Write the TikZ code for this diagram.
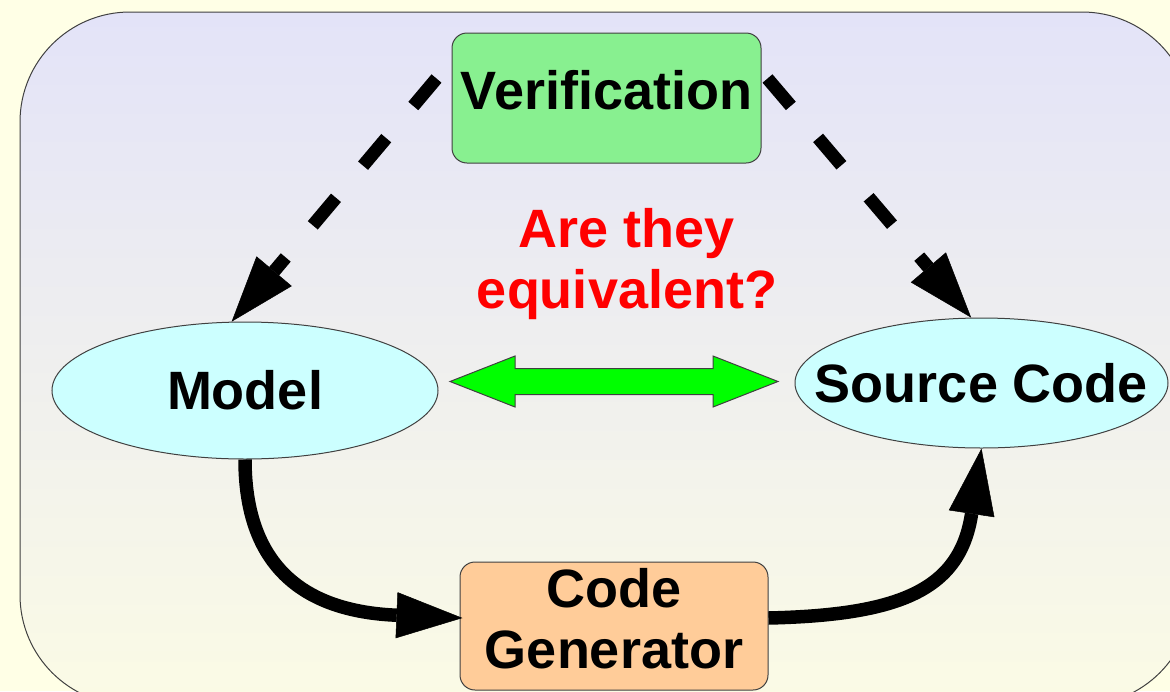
\documentclass[tikz,border=0pt]{standalone}
\usepackage{fontspec}
\setmainfont{Liberation Sans}
\usetikzlibrary{arrows.meta,shapes.geometric}
\definecolor{bgyellow}{HTML}{FFFFE6}
\definecolor{paneltop}{HTML}{E3E3F8}
\definecolor{panelbot}{HTML}{FBFBE5}
\definecolor{vergreen}{HTML}{88F090}
\definecolor{ellcyan}{HTML}{CCFFFF}
\definecolor{peach}{HTML}{FFCC99}
\definecolor{brightgreen}{HTML}{00FF00}
\definecolor{edge}{HTML}{404040}
\newcommand\dstrut{\rule[-16pt]{0pt}{16pt}}
\begin{document}
\begin{tikzpicture}[x=1pt,y=-1pt,
  txt/.style={font=\bfseries\fontsize{54}{61}\selectfont},
  boxnode/.style={draw=edge,line width=1pt,rounded corners=15pt,inner sep=0pt,txt,align=center},
  ellnode/.style={ellipse,draw=edge,line width=1pt,fill=ellcyan,inner sep=0pt,txt},
  dasharrow/.style={line width=13pt,dash pattern=on 36pt off 42pt,-{Triangle[length=66pt,width=46pt,line width=0.5pt]}},
  curvearrow/.style={line width=13.5pt,-{Triangle[length=66pt,width=46pt,line width=0.5pt]}}]
\useasboundingbox (0,0) rectangle (1170,691);
\fill[bgyellow] (0,0) rectangle (1170,691);
\begin{scope}
\clip (0,0) rectangle (1170,691);
\draw[top color=paneltop,bottom color=panelbot,draw=edge,line width=1pt,rounded corners=110pt] (20,12) rectangle (1192,705);
\end{scope}
% nodes
\node[boxnode,fill=vergreen,minimum width=309pt,minimum height=130pt] (ver) at (606.5,98) {Verification\dstrut};
\node[ellnode,minimum width=386pt,minimum height=137pt] (model) at (245,390.5) {\makebox[0pt]{Model}};
\node[ellnode,minimum width=373pt,minimum height=130pt] (src) at (981.5,383) {\makebox[0pt]{Source Code}};
\node[boxnode,fill=peach,minimum width=308pt,minimum height=128pt] (cg) at (614,626) {Code\\Generator\dstrut};
\node[txt,text=red,align=center,anchor=north,inner sep=0pt] (question) at (627,208) {Are they\\equivalent?};
% green double arrow
\draw[draw=edge,line width=1pt,fill=brightgreen] (450,381.5) -- (515,356) -- (515,368.5) -- (713,368.5) -- (713,356) -- (778,381.5) -- (713,407) -- (713,394.5) -- (515,394.5) -- (515,407) -- cycle;
% connectors
\draw[dasharrow] ([shift={(-15,46)}]ver.north west) -- (model.101);
\draw[dasharrow] ([shift={(6,46)}]ver.north east) -- (src.99);
\draw[curvearrow] (model.south) .. controls (245,580) and (320,612) .. ([shift={(3,-8)}]cg.west);
\draw[curvearrow] ([shift={(0,-8)}]cg.east) .. controls (900,615) and (960,590) .. (src.south);
\end{tikzpicture}
\end{document}
